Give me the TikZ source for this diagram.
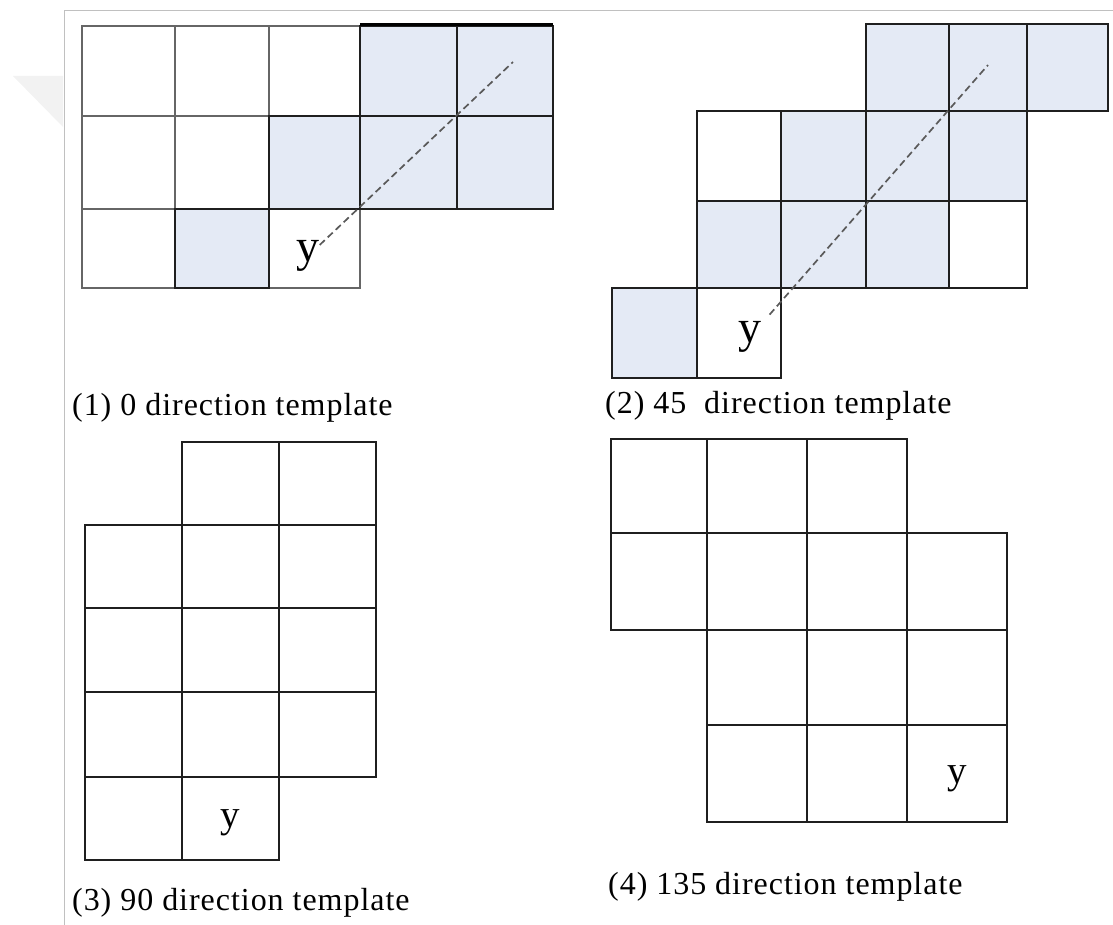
\documentclass[tikz,border=0pt]{standalone}
\usepackage{fontspec}
\setmainfont{Liberation Serif}
\newfontfamily\capfont[LetterSpace=3]{Liberation Serif}
\usepackage{xcolor}
\definecolor{cellblue}{RGB}{228,234,245}
\definecolor{framegray}{RGB}{192,192,192}

\begin{document}
\begin{tikzpicture}[x=1pt, y=-1pt,
  cell/.style={draw=black!88, line width=2.2pt},
  lite/.style={draw=black!60, line width=1.5pt},
  tint/.style={cell, fill=cellblue},
  diag/.style={dash pattern=on 7pt off 4pt, draw=black!65, line width=1.7pt},
  captxt/.style={anchor=base west, inner sep=0pt, font=\capfont\fontsize{32}{36}\selectfont},
  ylab/.style={inner sep=0pt, font=\fontsize{46}{50}\selectfont},
  ysmall/.style={inner sep=0pt, font=\fontsize{39}{44}\selectfont}
]
\useasboundingbox (0,0) rectangle (1113,925);
% page frame and mark
\fill[black!5] (13,76) -- (63,76) -- (63,127) -- cycle;
\draw[framegray, line width=1pt] (1113,11) -- (64,11) -- (64,925);

% (1) 0 direction
\foreach \a/\b/\c/\d in {82/26/175/116, 175/26/269/116, 269/26/360/116,
    82/116/175/209, 175/116/269/209, 82/209/175/288, 269/209/360/288}
  \draw[lite] (\a,\b) rectangle (\c,\d);
\foreach \a/\b/\c/\d in {360/26/457/116, 457/26/553/116, 269/116/360/209,
    360/116/457/209, 457/116/553/209, 175/209/269/288}
  \draw[tint] (\a,\b) rectangle (\c,\d);
\draw[line width=3pt] (360,25) -- (553,25);
\node[ylab] (y1) at (308,256) {y};
\coordinate (t1) at (513,62);
\draw[diag] (y1) -- (t1);
\node[captxt] (c1) at (72,415) {(1) 0 direction template};

% (2) 45 direction
\foreach \a/\b/\c/\d in {697/111/781/201, 949/201/1027/288, 697/288/781/378}
  \draw[cell] (\a,\b) rectangle (\c,\d);
\foreach \a/\b/\c/\d in {866/24/949/111, 949/24/1027/111, 1027/24/1108/111,
    781/111/866/201, 866/111/949/201, 949/111/1027/201,
    697/201/781/288, 781/201/866/288, 866/201/949/288, 612/288/697/378}
  \draw[tint] (\a,\b) rectangle (\c,\d);
\node[ylab] (y2) at (750,337) {y};
\coordinate (t2) at (988,65);
\draw[diag, shorten <=12pt] (y2) -- (t2);
\node[captxt] (c2) at (605,413) {(2) 45\ \ direction template};

% (3) 90 direction
\foreach \a/\b/\c/\d in {182/442/279/525, 279/442/376/525,
    85/525/182/608, 182/525/279/608, 279/525/376/608,
    85/608/182/692, 182/608/279/692, 279/608/376/692,
    85/692/182/777, 182/692/279/777, 279/692/376/777,
    85/777/182/860, 182/777/279/860}
  \draw[cell] (\a,\b) rectangle (\c,\d);
\node[ysmall] (y3) at (230,823) {y};
\node[captxt] (c3) at (72,910) {(3) 90 direction template};

% (4) 135 direction
\foreach \a/\b/\c/\d in {611/439/707/533, 707/439/807/533, 807/439/907/533,
    611/533/707/630, 707/533/807/630, 807/533/907/630, 907/533/1007/630,
    707/630/807/725, 807/630/907/725, 907/630/1007/725,
    707/725/807/822, 807/725/907/822, 907/725/1007/822}
  \draw[cell] (\a,\b) rectangle (\c,\d);
\node[ysmall] (y4) at (957,779) {y};
\node[captxt] (c4) at (608,894) {(4) 135 direction template};
\end{tikzpicture}
\end{document}
